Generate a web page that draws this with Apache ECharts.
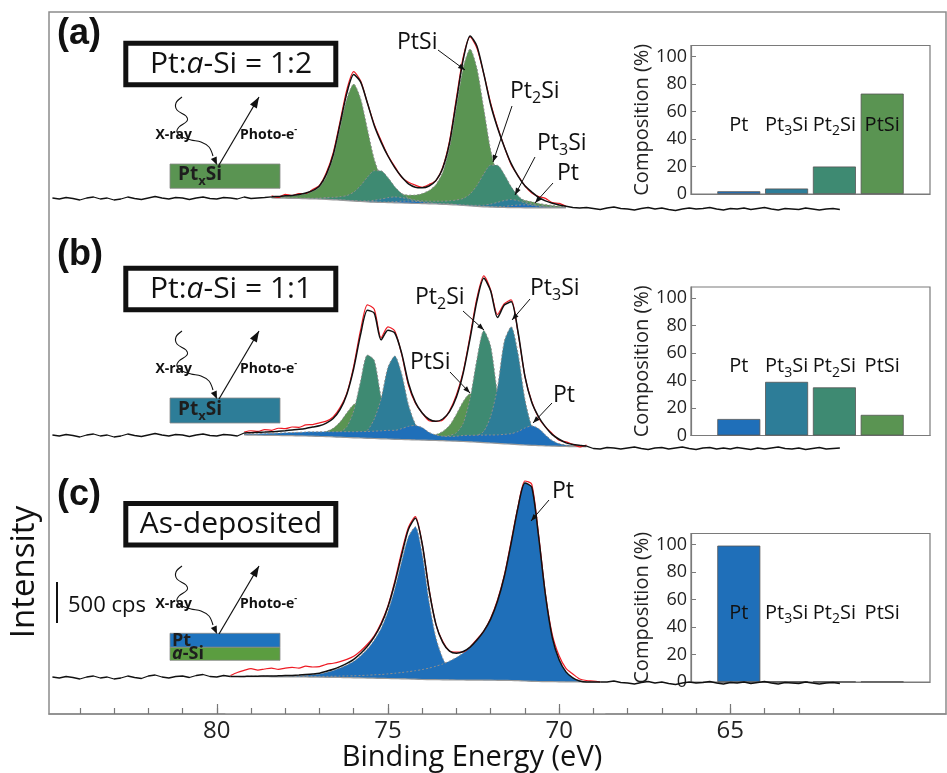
<!DOCTYPE html>
<html>
<head>
<meta charset="utf-8">
<script src="https://cdn.jsdelivr.net/npm/echarts@6.0.0/dist/echarts.min.js"></script>
<style>
html, body { margin: 0; padding: 0; background: #fff; }
#main { width: 947px; height: 773px; }
</style>
</head>
<body>
<div id="main"></div>
<script>
// ---- axis ticks ----
var majorTicks = [65, 70, 75, 80];
var minorTicks = [62, 63, 64, 65, 66, 67, 68, 69, 70, 71, 72, 73, 74, 75, 76, 77, 78, 79, 80, 81, 82, 83, 84];

// ---- flat (unfitted) ends of the spectra, binding energy in eV ----
var edgeLeftE = [84.8, 84.6, 84.4, 84.2, 84.0, 83.8, 83.6, 83.4, 83.2, 83.0, 82.8, 82.6, 82.4, 82.2, 82.0, 81.8,
  81.6, 81.4, 81.2, 81.0, 80.8, 80.6, 80.4, 80.2, 80.0, 79.8, 79.6, 79.4, 79.2, 79.0, 78.8, 78.6];
var edgeRightE = [69.6, 69.4, 69.2, 69.0, 68.8, 68.6, 68.4, 68.2, 68.0, 67.8, 67.6, 67.4, 67.2, 67.0, 66.8, 66.6,
  66.4, 66.2, 66.0, 65.8, 65.6, 65.4, 65.2, 65.0, 64.8, 64.6, 64.4, 64.2, 64.0, 63.8, 63.6, 63.4, 63.2, 63.0,
  62.8, 62.6, 62.4, 62.2, 62.0, 61.8];

// ---- (a) Pt:a-Si = 1:2, intensities in cps ----
var energyA = [78.4, 78.2, 78.0, 77.8, 77.6, 77.4, 77.2, 77.0, 76.8, 76.6, 76.4, 76.2, 76.0, 75.8, 75.6, 75.4,
  75.2, 75.0, 74.8, 74.6, 74.4, 74.2, 74.0, 73.8, 73.6, 73.4, 73.2, 73.0, 72.8, 72.6, 72.4, 72.2, 72.0, 71.8,
  71.6, 71.4, 71.2, 71.0, 70.8, 70.6, 70.4, 70.2, 70.0, 69.8];
var bgA = [384, 383, 382, 379, 378, 376, 373, 371, 367, 362, 358, 352, 347, 342, 337, 334, 331, 329, 326, 324,
  322, 319, 317, 314, 312, 308, 305, 300, 294, 288, 283, 278, 275, 272, 270, 269, 268, 266, 266, 265, 265, 265, 264, 264];
var ptSiA = [12, 18, 24, 30, 42, 60, 90, 144, 276, 504, 864, 1224, 1404, 1236, 876, 516, 300, 192, 144, 112,
  96, 100, 120, 160, 232, 384, 684, 1176, 1656, 1884, 1656, 1176, 684, 384, 234, 156, 120, 90, 72, 54, 40, 30, 22, 14];
var pt2SiA = [2, 2, 3, 4, 5, 6, 8, 12, 23, 30, 42, 61, 108, 190, 298, 378, 379, 300, 194, 114, 60, 40, 34, 32,
  34, 38, 46, 60, 85, 145, 252, 396, 504, 504, 396, 252, 144, 78, 52, 34, 24, 16, 10, 5];
var pt3SiA = [0, 0, 1, 1, 1, 2, 2, 2, 2, 4, 4, 5, 5, 8, 12, 23, 40, 59, 71, 66, 50, 31, 18, 11, 8, 7, 7, 6,
  8, 9, 13, 20, 36, 60, 84, 96, 84, 60, 35, 17, 10, 6, 3, 1];
var ptA = [0, 0, 0, 0, 0, 0, 0, 0, 0, 0, 0, 1, 1, 2, 2, 4, 5, 8, 14, 22, 26, 24, 18, 11, 6, 4, 5, 5,
  4, 2, 2, 3, 4, 7, 13, 23, 31, 36, 31, 20, 11, 5, 2, 1];
var residA = [12, -12, 18, 0, 12, -6, 12, 6, 18, 24, 30, 42, 36, 12, 0, 12, 18, 6, 12, -6, 18, 24, 6, 18, 0, 12,
  24, 36, 30, -12, -24, 0, 18, 12, 0, -12, 6, 0, -12, 12, 30, 6, 18, 0];
var noiseLeftA = [384, 372, 390, 378, 360, 384, 396, 372, 384, 360, 372, 396, 378, 366, 384, 402, 384, 372, 390,
  384, 366, 384, 396, 378, 372, 390, 384, 372, 396, 378, 384, 390];
var noiseRightA = [270, 264, 270, 258, 246, 264, 276, 258, 252, 240, 258, 270, 252, 264, 246, 234, 252, 264, 252,
  258, 270, 252, 240, 258, 252, 264, 246, 258, 270, 252, 240, 258, 252, 246, 264, 252, 240, 252, 258, 246];

// ---- (b) Pt:a-Si = 1:1 ----
var energyB = [79.2, 79.0, 78.8, 78.6, 78.4, 78.2, 78.0, 77.8, 77.6, 77.4, 77.2, 77.0, 76.8, 76.6, 76.4, 76.2,
  76.0, 75.8, 75.6, 75.4, 75.2, 75.0, 74.8, 74.6, 74.4, 74.2, 74.0, 73.8, 73.6, 73.4, 73.2, 73.0, 72.8, 72.6,
  72.4, 72.2, 72.0, 71.8, 71.6, 71.4, 71.2, 71.0, 70.8, 70.6, 70.4, 70.2, 70.0, 69.8, 69.6, 69.4, 69.2];
var bgB = [420, 419, 418, 416, 415, 414, 413, 412, 409, 408, 406, 403, 401, 397, 394, 390, 386, 384, 380, 378,
  374, 372, 368, 366, 364, 361, 359, 356, 354, 352, 348, 346, 342, 338, 334, 329, 324, 319, 314, 310,
  305, 300, 296, 293, 289, 287, 284, 282, 281, 280, 278];
var ptSiB = [6, 7, 7, 8, 8, 10, 12, 14, 17, 22, 30, 41, 61, 103, 182, 296, 400, 431, 358, 242,
  108, 80, 58, 48, 43, 42, 46, 55, 71, 110, 188, 324, 480, 576, 535, 401, 246, 136, 79, 52,
  37, 29, 22, 17, 14, 12, 10, 6, 4, 3, 2];
var pt2SiB = [4, 4, 5, 5, 6, 7, 8, 10, 12, 13, 17, 20, 28, 40, 62, 130, 324, 678, 1000, 940,
  504, 260, 110, 68, 54, 46, 40, 40, 46, 52, 67, 102, 220, 523, 996, 1344, 1164, 600, 240, 120,
  66, 42, 32, 25, 20, 17, 14, 8, 5, 3, 2];
var pt3SiB = [2, 3, 4, 4, 4, 5, 5, 6, 7, 8, 10, 11, 13, 16, 20, 24, 34, 54, 96, 234,
  480, 860, 1000, 790, 420, 192, 89, 62, 47, 44, 43, 44, 52, 65, 80, 136, 319, 672, 1232, 1410,
  1092, 552, 228, 100, 62, 42, 31, 16, 10, 6, 3];
var ptB = [12, 14, 18, 22, 25, 29, 34, 38, 43, 48, 52, 55, 59, 62, 66, 70, 73, 77, 82, 88,
  96, 104, 108, 130, 160, 174, 150, 96, 66, 54, 54, 60, 72, 78, 84, 90, 96, 102, 114, 126,
  156, 204, 234, 204, 132, 66, 30, 14, 7, 4, 2];
var residB = [12, 24, 12, 30, 18, 36, 24, 36, 24, 42, 30, 36, 24, 18, 24, 12, 30, 54, 66, 48,
  24, 42, 24, -12, -24, -12, 0, -18, 0, -12, 12, 24, 18, 30, 36, 30, 12, 36, 18, 24,
  -12, 0, 12, -12, 0, 12, -12, 12, 0, -18, 12];
var noiseLeftB = [420, 408, 426, 414, 396, 420, 432, 408, 420, 396, 408, 432, 414, 402, 420, 438, 420, 408, 426,
  420, 402, 420, 432, 414, 408, 426, 420, 408, 420, 426, 414, 408];
var noiseRightB = [276, 264, 276, 258, 252, 270, 264, 252, 264, 276, 258, 246, 264, 270, 252, 264, 276, 258, 246,
  264, 270, 252, 264, 252, 270, 258, 246, 264, 252, 264, 276, 258, 252, 264, 246, 258, 270, 252, 258, 264];

// ---- (c) as-deposited ----
var energyC = [79.6, 79.4, 79.2, 79.0, 78.8, 78.6, 78.4, 78.2, 78.0, 77.8, 77.6, 77.4, 77.2, 77.0, 76.8, 76.6,
  76.4, 76.2, 76.0, 75.8, 75.6, 75.4, 75.2, 75.0, 74.8, 74.6, 74.4, 74.2, 74.0, 73.8, 73.6, 73.4, 73.2, 73.0,
  72.8, 72.6, 72.4, 72.2, 72.0, 71.8, 71.6, 71.4, 71.2, 71.0, 70.8, 70.6, 70.4, 70.2, 70.0, 69.8, 69.6, 69.4,
  69.2, 69.0, 68.8];
var bgC = [450, 450, 449, 449, 448, 448, 446, 446, 446, 445, 444, 444, 443, 442, 440, 439, 438, 437, 434, 433,
  431, 430, 427, 426, 424, 422, 420, 418, 414, 413, 412, 410, 409, 408, 408, 407, 407, 406, 406, 404,
  403, 402, 400, 396, 392, 390, 389, 388, 386, 385, 385, 384, 384, 384, 384];
var pt52C = [0, 0, 2, 4, 5, 6, 7, 8, 11, 13, 17, 22, 29, 38, 60, 84, 114, 150, 198, 264,
  348, 456, 600, 804, 1080, 1410, 1710, 1830, 1510, 940, 506, 260, 120, 52, 18, 0, 0, 0, 0, 0,
  0, 0, 0, 0, 0, 0, 0, 0, 0, 0, 0, 0, 0, 0, 0];
var pt72C = [0, 0, 0, 1, 1, 2, 2, 4, 4, 5, 6, 7, 8, 10, 12, 14, 17, 20, 24, 29,
  34, 40, 47, 55, 65, 76, 88, 102, 119, 138, 161, 190, 226, 270, 324, 396, 480, 588, 732, 948,
  1250, 1650, 2080, 2376, 2330, 1740, 1040, 528, 264, 120, 48, 12, 0, 0, 0];
var residC = [12, 48, 72, 90, 72, 84, 96, 78, 90, 96, 84, 102, 84, 78, 84, 72, 60, 48, 36, 30,
  24, 12, 18, 12, 24, 36, 24, 18, 0, 12, 0, 12, 0, 12, -6, 0, 12, 0, 12, 18,
  12, 24, 12, 24, 36, 24, 12, 36, 48, 42, 48, 24, 18, 12, 0];
var noiseLeftC = [444, 432, 450, 438, 420, 444, 456, 432, 444, 420, 432, 456, 438, 426, 456, 468, 444, 432, 450,
  456, 438, 462, 474, 450, 444, 462, 456, 444, 468, 450, 444, 456];
var noiseRightC = [384, 372, 390, 378, 366, 384, 396, 378, 372, 360, 378, 390, 372, 384, 366, 354, 372, 384, 372,
  378, 390, 372, 360, 378, 372, 384, 366, 378, 390, 372, 360, 378, 372, 366, 384, 372, 360, 372, 378, 366];

// ---- insets: composition (%) ----
var phases = ['Pt', 'Pt3Si', 'Pt2Si', 'PtSi'];
var compositionA = [2, 4, 20, 73];
var compositionB = [12, 39, 35, 15];
var compositionC = [99.2, 0.3, 0.3, 0.3];
var phaseLabelLevel = 50;

var FONT = '"Open Sans", "DejaVu Sans", sans-serif';
var CPS_PER_PX = 12;
var X_MIN = 58.7, X_MAX = 84.9;
var SM = 0.25;
var colors = { PtSi: '#5a9452', Pt2Si: '#3e8a72', Pt3Si: '#2d7d98', Pt: '#1f6fb9' };
var phaseColors = [colors.Pt, colors.Pt3Si, colors.Pt2Si, colors.PtSi];

var panelBoxes = [{ top: 12, height: 218 }, { top: 230, height: 240 }, { top: 470, height: 244 }];
var insetTops = [45.5, 287, 533.5];

var chart = echarts.init(document.getElementById('main'));

function pairs(e, v) {
  return e.map(function (x, i) { return [x, v[i]]; });
}
function richName(n) {
  return n.split(/(\d)/).map(function (t, i) {
    if (!t) return '';
    return i % 2 ? '{s|' + t + '}' : '{m|' + t + '}';
  }).join('');
}

var grids = [{ left: 49, right: 1, top: 12, bottom: 59, show: true, borderColor: '#8c8c8c', borderWidth: 1.5 }];
var xAxes = [
  {
    gridIndex: 0, type: 'value', position: 'bottom', min: X_MIN, max: X_MAX, inverse: true, z: 10,
    axisLine: { show: true, onZero: false, lineStyle: { color: '#8c8c8c', width: 1.5 } },
    axisTick: { show: true, inside: true, length: 10, customValues: majorTicks, lineStyle: { color: '#777', width: 1.2 } },
    axisLabel: { show: true, customValues: majorTicks, margin: 5, fontSize: 24, color: '#222', fontFamily: FONT },
    splitLine: { show: false }
  },
  {
    gridIndex: 0, type: 'value', position: 'bottom', min: X_MIN, max: X_MAX, inverse: true, z: 10,
    axisLine: { show: false },
    axisTick: { show: true, inside: true, length: 6, customValues: minorTicks, lineStyle: { color: '#777', width: 1.2 } },
    axisLabel: { show: false }, splitLine: { show: false }
  }
];
var yAxes = [{ gridIndex: 0, type: 'value', min: 0, max: 1, show: false }];

panelBoxes.forEach(function (b, k) {
  grids.push({ left: 49, right: 1, top: b.top, height: b.height });
  xAxes.push({ gridIndex: 1 + k, type: 'value', min: X_MIN, max: X_MAX, inverse: true, show: false });
  yAxes.push({ gridIndex: 1 + k, type: 'value', min: 0, max: b.height * CPS_PER_PX, show: false });
});
insetTops.forEach(function (t, k) {
  grids.push({ left: 691, width: 239, top: t, height: 148.5, show: true, borderColor: '#7a7a7a', borderWidth: 1.2 });
  xAxes.push({
    gridIndex: 4 + k, type: 'value', min: 0, max: 5,
    axisLine: { show: true, lineStyle: { color: '#7a7a7a', width: 1.2 } },
    axisTick: { show: false }, axisLabel: { show: false }, splitLine: { show: false }
  });
  yAxes.push({
    gridIndex: 4 + k, type: 'value', min: 0, max: 108, interval: 20,
    name: 'Composition (%)', nameLocation: 'middle', nameGap: 37,
    nameTextStyle: { fontSize: 20, color: '#222', fontFamily: FONT },
    axisLine: { show: true, lineStyle: { color: '#7a7a7a', width: 1.2 } },
    axisTick: { show: true, inside: true, length: 5, lineStyle: { color: '#7a7a7a' } },
    axisLabel: { fontSize: 18, color: '#222', margin: 4, fontFamily: FONT, showMaxLabel: false },
    splitLine: { show: false }
  });
});

var series = [];
var panels = [
  { e: energyA, bg: bgA, comps: [[ptSiA, colors.PtSi], [pt2SiA, colors.Pt2Si], [pt3SiA, colors.Pt3Si], [ptA, colors.Pt]],
    resid: residA, nl: noiseLeftA, nr: noiseRightA },
  { e: energyB, bg: bgB, comps: [[ptSiB, colors.PtSi], [pt2SiB, colors.Pt2Si], [pt3SiB, colors.Pt3Si], [ptB, colors.Pt]],
    resid: residB, nl: noiseLeftB, nr: noiseRightB },
  { e: energyC, bg: bgC, comps: [[pt52C, colors.Pt], [pt72C, colors.Pt]],
    resid: residC, nl: noiseLeftC, nr: noiseRightC }
];

panels.forEach(function (p, k) {
  var xi = 2 + k, yi = 1 + k;
  var n = p.e.length;
  var eFirst = p.e[0], eLast = p.e[n - 1];
  var env = p.bg.map(function (b, i) {
    var s = b;
    p.comps.forEach(function (c) { s += c[0][i]; });
    return s;
  });
  p.comps.forEach(function (c, j) {
    series.push({
      type: 'line', xAxisIndex: xi, yAxisIndex: yi, silent: true, symbol: 'none', smooth: SM, z: 2 + j,
      data: pairs(p.e, p.bg.map(function (b, i) { return b + c[0][i]; })),
      lineStyle: { color: '#8e8e8e', width: 1, type: [2, 2] },
      areaStyle: { color: c[1], opacity: 1 }
    });
  });
  // white mask under the background, a little wider than the fit window
  series.push({
    type: 'line', xAxisIndex: xi, yAxisIndex: yi, silent: true, symbol: 'none', smooth: SM, z: 6,
    data: [[eFirst + 0.15, p.bg[0]]].concat(pairs(p.e, p.bg), [[eLast - 0.15, p.bg[n - 1]]]),
    lineStyle: { width: 0, opacity: 0 },
    areaStyle: { color: '#ffffff', opacity: 1 }
  });
  // background line
  series.push({
    type: 'line', xAxisIndex: xi, yAxisIndex: yi, silent: true, symbol: 'none', smooth: SM, z: 6,
    data: pairs(p.e, p.bg), lineStyle: { color: '#9a9a9a', width: 1.2 }
  });
  // measured data in the fit window
  series.push({
    type: 'line', xAxisIndex: xi, yAxisIndex: yi, silent: true, symbol: 'none', smooth: SM, z: 7,
    data: pairs(p.e, env.map(function (v, i) { return v + p.resid[i]; })),
    lineStyle: { color: '#ee1b24', width: 1.2 }
  });
  // fit envelope
  series.push({
    type: 'line', xAxisIndex: xi, yAxisIndex: yi, silent: true, symbol: 'none', smooth: SM, z: 8,
    data: pairs(p.e, env), lineStyle: { color: '#111', width: 1.5 }
  });
  // measured data outside the fit window
  var left = [], right = [];
  edgeLeftE.forEach(function (x, i) { if (x > eFirst + 0.01) left.push([x, p.nl[i]]); });
  left.push([eFirst, env[0]]);
  right.push([eLast, env[n - 1]]);
  edgeRightE.forEach(function (x, i) { if (x < eLast - 0.01) right.push([x, p.nr[i]]); });
  [left, right].forEach(function (d) {
    series.push({
      type: 'line', xAxisIndex: xi, yAxisIndex: yi, silent: true, symbol: 'none', z: 8,
      data: d, lineStyle: { color: '#111', width: 1.3 }
    });
  });
});

var insets = [compositionA, compositionB, compositionC];
insets.forEach(function (comp, k) {
  series.push({
    type: 'bar', xAxisIndex: 5 + k, yAxisIndex: 4 + k, silent: true, barWidth: 43, z: 3,
    data: comp.map(function (v, i) {
      return { value: [i + 1, v], itemStyle: { color: phaseColors[i], borderColor: '#555', borderWidth: 0.8 } };
    })
  });
});

chart.setOption({
  animation: false,
  backgroundColor: '#fff',
  grid: grids,
  xAxis: xAxes,
  yAxis: yAxes,
  series: series
});

// ---- annotations ----
var g = [];
function text(x, y, str, o) {
  o = o || {};
  g.push({
    type: 'text', x: x, y: y, z: 100, rotation: o.rot || 0, silent: true,
    style: {
      text: str, fill: o.fill || '#111', align: o.align || 'left', verticalAlign: 'middle',
      fontSize: o.size || 22, fontFamily: o.family || FONT, fontWeight: o.weight || 'normal', rich: o.rich
    }
  });
}
function head(x0, y0, x1, y1, len, half) {
  var dx = x1 - x0, dy = y1 - y0, d = Math.sqrt(dx * dx + dy * dy);
  var ux = dx / d, uy = dy / d, bx = x1 - ux * len, by = y1 - uy * len;
  g.push({ type: 'polygon', z: 100, silent: true,
    shape: { points: [[x1, y1], [bx - uy * half, by + ux * half], [bx + uy * half, by - ux * half]] },
    style: { fill: '#111' } });
}
function arrow(x0, y0, x1, y1, len, half, w) {
  g.push({ type: 'line', z: 100, silent: true, shape: { x1: x0, y1: y0, x2: x1, y2: y1 },
    style: { stroke: '#111', lineWidth: w || 1.1 } });
  head(x0, y0, x1, y1, len, half);
}

// phase names inside the composition insets, placed through the inset scales
var insetRich = {
  m: { fontSize: 20, fontFamily: FONT, fill: '#111', lineHeight: 26 },
  s: { fontSize: 14, fontFamily: FONT, fill: '#111', lineHeight: 10, verticalAlign: 'bottom' }
};
insets.forEach(function (comp, k) {
  phases.forEach(function (name, i) {
    var pt = chart.convertToPixel({ xAxisIndex: 5 + k, yAxisIndex: 4 + k }, [i + 1, phaseLabelLevel]);
    text(pt[0], pt[1], richName(name), { align: 'center', rich: insetRich });
  });
});

var peakRich = {
  m: { fontSize: 23, fontFamily: FONT, fill: '#111', lineHeight: 30 },
  s: { fontSize: 16, fontFamily: FONT, fill: '#111', lineHeight: 10, verticalAlign: 'bottom' }
};
var peakNotes = [
  { t: 'PtSi', x: 397, y: 42, a: [438, 50, 465, 70] },
  { t: 'Pt2Si', x: 510, y: 91, a: [512, 106, 493, 162] },
  { t: 'Pt3Si', x: 537, y: 143, a: [535, 157, 515, 195] },
  { t: 'Pt', x: 557, y: 173, a: [553, 183, 535, 203] },
  { t: 'Pt2Si', x: 415, y: 297, a: [463, 311, 484, 330] },
  { t: 'Pt3Si', x: 530, y: 288, a: [530, 299, 512, 320] },
  { t: 'PtSi', x: 410, y: 362, a: [450, 372, 470, 393] },
  { t: 'Pt', x: 553, y: 395, a: [552, 403, 533, 423] },
  { t: 'Pt', x: 552, y: 491, a: [549, 500, 531, 521] }
];
peakNotes.forEach(function (n) {
  text(n.x, n.y, richName(n.t), { rich: peakRich });
  arrow(n.a[0], n.a[1], n.a[2], n.a[3], 7, 2.6, 1);
});

// panel letters and ratio boxes
[['(a)', 34], ['(b)', 255], ['(c)', 495]].forEach(function (l) {
  text(57, l[1], l[0], { size: 36, weight: 'bold', family: '"Liberation Sans", Arial, sans-serif' });
});
var boxRich = {
  m: { fontSize: 30, fontFamily: FONT, fill: '#111', lineHeight: 36 },
  i: { fontSize: 30, fontFamily: FONT, fill: '#111', lineHeight: 36, fontStyle: 'italic' }
};
[[43.2, '{m|Pt:}{i|a}{m|-Si = 1:2}'], [268.2, '{m|Pt:}{i|a}{m|-Si = 1:1}'], [503.5, '{m|As-deposited}']].forEach(function (b) {
  g.push({ type: 'rect', z: 90, silent: true, shape: { x: 125.8, y: b[0], width: 210, height: 41.6 },
    style: { fill: '#fff', stroke: '#111', lineWidth: 5 } });
  text(231, b[0] + 21, b[1], { align: 'center', rich: boxRich });
});

// X-ray / photoelectron sketches
var smallBold = { m: { fontSize: 14, fontFamily: FONT, fontWeight: 'bold', fill: '#111', lineHeight: 20 },
  u: { fontSize: 9, fontFamily: FONT, fontWeight: 'bold', fill: '#111', lineHeight: 8, verticalAlign: 'top' } };
var layerRich = {
  m: { fontSize: 19, fontFamily: FONT, fontWeight: 'bold', fill: '#1e1e1e', lineHeight: 26 },
  s: { fontSize: 13, fontFamily: FONT, fontWeight: 'bold', fill: '#1e1e1e', lineHeight: 6, verticalAlign: 'bottom' },
  i: { fontSize: 18, fontFamily: FONT, fontWeight: 'bold', fontStyle: 'italic', fill: '#1e1e1e', lineHeight: 24 },
  n: { fontSize: 18, fontFamily: FONT, fontWeight: 'bold', fill: '#1e1e1e', lineHeight: 24 }
};
function sketch(dy) {
  var wave = [[182, 97], [176, 103], [177, 110], [186, 116], [187, 121], [179, 127], [177, 132], [182, 137],
    [191, 140], [201, 142], [209, 147], [213, 156]].map(function (p) { return [p[0], p[1] + dy]; });
  g.push({ type: 'polyline', z: 100, silent: true, shape: { points: wave, smooth: 0.35 },
    style: { stroke: '#111', lineWidth: 1.1, fill: null } });
  head(213, 156 + dy, 217, 165 + dy, 8, 3.2);
  arrow(219, 165 + dy, 259, 97 + dy, 11, 4, 1.2);
  text(192, 135 + dy, 'X-ray', { size: 14, weight: 'bold', align: 'right' });
  text(240, 135 + dy, '{m|Photo-e}{u|-}', { rich: smallBold });
}
sketch(0);
sketch(234);
sketch(469);
g.push({ type: 'rect', z: 90, silent: true, shape: { x: 170, y: 164, width: 110, height: 24.3 },
  style: { fill: colors.PtSi, stroke: '#888', lineWidth: 0.8 } });
text(178, 175, '{m|Pt}{s|x}{m|Si}', { rich: layerRich });
g.push({ type: 'rect', z: 90, silent: true, shape: { x: 170, y: 398, width: 110, height: 25 },
  style: { fill: colors.Pt3Si, stroke: '#888', lineWidth: 0.8 } });
text(178, 410, '{m|Pt}{s|x}{m|Si}', { rich: layerRich });
g.push({ type: 'rect', z: 90, silent: true, shape: { x: 170, y: 633.3, width: 110, height: 14 },
  style: { fill: '#1e73be', stroke: '#888', lineWidth: 0.8 } });
g.push({ type: 'rect', z: 90, silent: true, shape: { x: 170, y: 647.3, width: 110, height: 13 },
  style: { fill: '#5b9d40', stroke: '#888', lineWidth: 0.8 } });
text(172, 640.5, '{n|Pt}', { rich: layerRich });
text(172, 654, '{i|a}{n|-Si}', { rich: layerRich });

// scale bar and axis titles
g.push({ type: 'line', z: 100, silent: true, shape: { x1: 57, y1: 582, x2: 57, y2: 623 },
  style: { stroke: '#111', lineWidth: 2 } });
text(68, 606, '500 cps', { size: 22 });
text(25, 572, 'Intensity', { size: 33, rot: Math.PI / 2, align: 'center' });
text(472, 758, 'Binding Energy (eV)', { size: 29, align: 'center' });

chart.setOption({ graphic: { elements: g } });
</script>
</body>
</html>
